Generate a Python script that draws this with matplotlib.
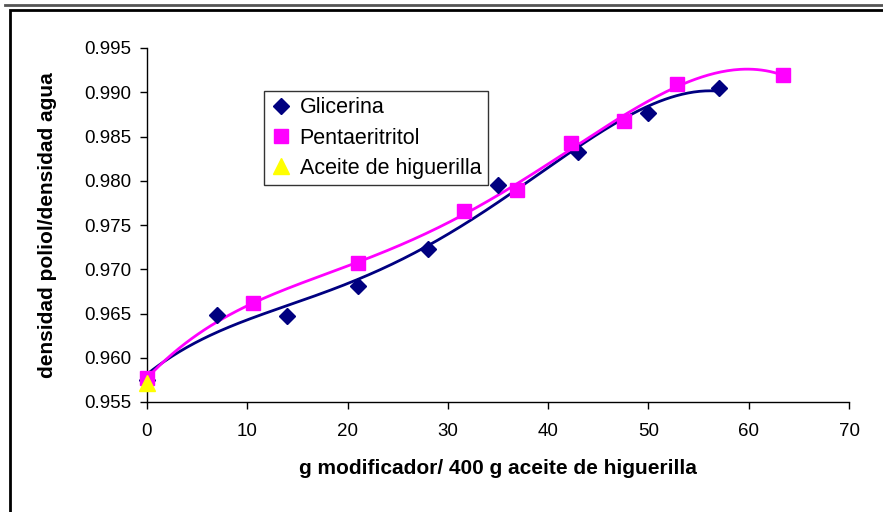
import numpy as np
import matplotlib
matplotlib.use('Agg')
import matplotlib.pyplot as plt
from matplotlib.lines import Line2D
from matplotlib.patches import Rectangle

plt.rcParams['font.family'] = ['Liberation Sans', 'DejaVu Sans']

# data
glic_x = [0, 7, 14, 21, 28, 35, 43, 50, 57]
glic_y = [0.9575, 0.9648, 0.9647, 0.9681, 0.9723, 0.9795, 0.9833, 0.9877, 0.9905]
penta_x = [0, 10.6, 21, 31.6, 36.9, 42.3, 47.6, 52.8, 63.4]
penta_y = [0.9577, 0.9662, 0.9707, 0.9766, 0.9790, 0.9843, 0.9868, 0.9909, 0.9919]
aceite_x = [0]
aceite_y = [0.9572]

c_glic = '#000080'
c_penta = '#FF00FF'
c_aceite = '#FFFF00'

fig = plt.figure(figsize=(8.83, 5.12), dpi=100)
W, H = 883, 512
ax = fig.add_axes([147 / W, 1 - 402 / H, (849 - 147) / W, (402 - 48) / H])

# polynomial trendlines (Excel style)
for xs, ys, col, deg in [(glic_x, glic_y, c_glic, 4), (penta_x, penta_y, c_penta, 4)]:
    p = np.polyfit(xs, ys, deg)
    xx = np.linspace(min(xs), max(xs), 300)
    ax.plot(xx, np.polyval(p, xx), color=col, lw=2, zorder=2)

ax.plot(glic_x, glic_y, 'D', color=c_glic, ms=8, ls='none', zorder=3, clip_on=False)
ax.plot(penta_x, penta_y, 's', color=c_penta, ms=10.5, ls='none', zorder=3, clip_on=False)
ax.plot(aceite_x, aceite_y, '^', color=c_aceite, ms=12, ls='none', zorder=4, clip_on=False)

ax.set_xlim(0, 70)
ax.set_ylim(0.955, 0.995)
ax.set_xticks(np.arange(0, 71, 10))
ax.set_yticks(np.arange(0.955, 0.9951, 0.005))
ax.set_yticklabels([f'{v:.3f}' for v in np.arange(0.955, 0.9951, 0.005)])
for s in ['top', 'right']:
    ax.spines[s].set_visible(False)
for s in ['left', 'bottom']:
    ax.spines[s].set_linewidth(1)
ax.tick_params(direction='out', length=5, width=1, labelsize=13.5)
ax.tick_params(axis='x', pad=10)
ax.tick_params(axis='y', pad=6)

fig.text(498 / W, 1 - 468 / H, 'g modificador/ 400 g aceite de higuerilla',
         ha='center', va='center', fontsize=15, fontweight='bold')
fig.text(48 / W, 1 - 225 / H, 'densidad poliol/densidad agua', rotation=90,
         ha='center', va='center', fontsize=15, fontweight='bold')

handles = [
    Line2D([], [], marker='D', color=c_glic, ls='none', ms=8),
    Line2D([], [], marker='s', color=c_penta, ls='none', ms=10.5),
    Line2D([], [], marker='^', color=c_aceite, ls='none', ms=12),
]
leg = fig.legend(handles, ['Glicerina', 'Pentaeritritol', 'Aceite de higuerilla'],
                 loc='upper left', bbox_to_anchor=(264 / W, 1 - 91 / H),
                 fontsize=15.5, frameon=True, fancybox=False, handlelength=1.0,
                 handletextpad=0.35, labelspacing=0.42, borderpad=0.3,
                 borderaxespad=0, handleheight=0.7)
leg.get_frame().set_edgecolor('black')
leg.get_frame().set_linewidth(1)

# outer chart frame
fig.add_artist(Line2D([5 / W, 1], [1 - 5 / H, 1 - 5 / H], color='#555555', lw=2,
                      transform=fig.transFigure))
fig.add_artist(Rectangle((10 / W, -0.1), 1.2, 1 - 10 / H + 0.1, fill=False,
                         edgecolor='black', lw=2, transform=fig.transFigure))

fig.savefig('out.png', dpi=100)
